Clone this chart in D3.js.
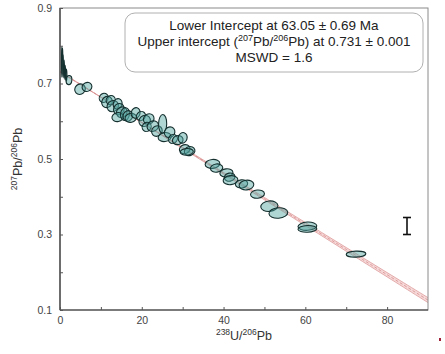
<!DOCTYPE html>
<html>
<head>
<meta charset="utf-8">
<script src="https://cdn.jsdelivr.net/npm/d3@7"></script>
<style>
  html, body { margin: 0; padding: 0; background: #fff; }
  svg { display: block; font-family: "Liberation Sans", Arial, sans-serif; }
</style>
</head>
<body>
<svg id="chart" width="445" height="354"></svg>
<script>
// Tera-Wasserburg analyses: 238U/206Pb, 207Pb/206Pb, half-widths of the error ellipses, error correlation
const u238pb206 = [0.45, 0.75, 1.0, 1.25, 1.55, 0.6, 2.2, 4.9, 6.6,
  10.7, 11.5, 12.4, 12.9, 14.1, 14.4, 15.1, 14.1, 15.9, 16.6, 17.3, 18.5, 19.8, 20.7, 21.7, 21.2,
  22.7, 23.7, 25.1, 25.6, 26.8, 27.6, 28.8, 30.0, 30.5, 31.7, 31.0,
  37.3, 38.3, 40.7, 41.5, 41.7, 44.4, 45.6, 48.3, 51.2, 53.4, 60.5, 60.5, 72.4];
const pb207pb206 = [0.757, 0.746, 0.738, 0.729, 0.722, 0.778, 0.709, 0.685, 0.691,
  0.662, 0.651, 0.656, 0.640, 0.646, 0.632, 0.624, 0.611, 0.619, 0.614, 0.609, 0.622, 0.614, 0.601, 0.606, 0.585,
  0.587, 0.574, 0.593, 0.558, 0.571, 0.553, 0.550, 0.556, 0.526, 0.521, 0.519,
  0.487, 0.476, 0.463, 0.452, 0.444, 0.434, 0.431, 0.407, 0.375, 0.357, 0.322, 0.315, 0.248];
const errU = [0.08, 0.1, 0.1, 0.12, 0.15, 0.08, 0.7, 1.3, 1.2,
  1.1, 1.3, 1.1, 1.4, 1.1, 1.3, 1.3, 1.4, 1.1, 1.2, 1.4, 1.1, 1.1, 1.4, 1.3, 1.1,
  1.4, 1.3, 1.0, 1.6, 1.3, 1.1, 1.3, 1.1, 1.3, 1.3, 1.6,
  1.8, 1.5, 1.6, 1.3, 1.8, 1.5, 1.8, 1.7, 2.1, 2.3, 2.3, 2.3, 2.4];
const errPb = [0.040, 0.030, 0.024, 0.019, 0.016, 0.016, 0.012, 0.014, 0.012,
  0.012, 0.015, 0.012, 0.015, 0.014, 0.015, 0.014, 0.012, 0.017, 0.014, 0.012, 0.014, 0.012, 0.015, 0.014, 0.012,
  0.014, 0.014, 0.025, 0.012, 0.014, 0.012, 0.012, 0.014, 0.012, 0.012, 0.009,
  0.012, 0.011, 0.011, 0.011, 0.012, 0.011, 0.013, 0.011, 0.014, 0.014, 0.011, 0.009, 0.008];
const rho = [0, 0, 0, 0, 0, 0, 0.1, 0.1, 0.1,
  0.1, 0.1, 0.1, 0.1, 0.1, 0.1, 0.1, 0.1, 0.1, 0.1, 0.1, 0.1, 0.1, 0.1, 0.1, 0.1,
  0.1, 0.1, 0.05, 0.1, 0.1, 0.1, 0.1, 0.1, 0.1, 0.1, 0.1,
  0.1, 0.1, 0.1, 0.1, 0.1, 0.1, 0.1, 0.1, 0.1, 0.1, 0.1, 0.1, 0.1];

// Discordia: lower intercept age (Ma) with error, upper intercept 207Pb/206Pb with error
const lowerAge = [63.05, 0.69];
const upperRatio = [0.731, 0.001];
const mswd = 1.6;

const xTicks = [0, 20, 40, 60, 80];
const xMinor = [10, 30, 50, 70];
const yTicks = [0.1, 0.3, 0.5, 0.7, 0.9];
const yMinor = [0.2, 0.4, 0.6, 0.8];

const svg = d3.select("#chart");
const margin = {left: 60, top: 8, right: 17, bottom: 44};
const W = 445, H = 354;

const x = d3.scaleLinear().domain([0, 90]).range([margin.left, W - margin.right]);
const y = d3.scaleLinear().domain([0.1, 0.9]).range([H - margin.bottom, margin.top]);

svg.append("defs").append("clipPath").attr("id", "plotClip")
  .append("rect").attr("x", x(0)).attr("y", y(0.9))
  .attr("width", x(90) - x(0)).attr("height", y(0.1) - y(0.9));

// Discordia line and its envelope
const lambda238 = 1.55125e-10;
const rad76 = t => { // radiogenic 207Pb/206Pb at age t (Ma)
  const l235 = 9.8485e-10, tt = t * 1e6;
  return (Math.exp(l235 * tt) - 1) / (137.818 * (Math.exp(lambda238 * tt) - 1));
};
const xAt = t => 1 / (Math.exp(lambda238 * t * 1e6) - 1);
const lineFn = (y0, t) => {
  const xi = xAt(t), yi = rad76(t);
  return xx => y0 + (yi - y0) * xx / xi;
};
const upper = lineFn(upperRatio[0] + upperRatio[1], lowerAge[0] + lowerAge[1]);
const lower = lineFn(upperRatio[0] - upperRatio[1], lowerAge[0] - lowerAge[1]);
const best = lineFn(upperRatio[0], lowerAge[0]);
const xs = d3.range(0, 90.01, 1);

const plot = svg.append("g").attr("clip-path", "url(#plotClip)");
plot.append("path")
  .datum(xs)
  .attr("d", d3.area().x(d => x(d)).y0(d => y(lower(d))).y1(d => y(upper(d))))
  .attr("fill", "#f6dada");
[upper, lower].forEach(f => {
  plot.append("path").datum(xs)
    .attr("d", d3.line().x(d => x(d)).y(d => y(f(d))))
    .attr("fill", "none").attr("stroke", "#de9a9a").attr("stroke-width", 0.8);
});
plot.append("path").datum(xs)
  .attr("d", d3.line().x(d => x(d)).y(d => y(best(d))))
  .attr("fill", "none").attr("stroke", "#d88a8a").attr("stroke-width", 0.8)
  .attr("stroke-dasharray", "3,2");

// Error ellipses
const kx = Math.abs(x(1) - x(0)), ky = Math.abs(y(0.2) - y(0.1)) / 0.1;
const pts = u238pb206.map((u, i) => {
  const sx = errU[i] * kx, sy = errPb[i] * ky;
  const a = sx * sx, d = sy * sy, c = -rho[i] * sx * sy;
  const theta = 0.5 * Math.atan2(2 * c, a - d);
  const tr = (a + d) / 2, det = Math.sqrt(((a - d) / 2) ** 2 + c * c);
  return {cx: x(u), cy: y(pb207pb206[i]), rx: Math.sqrt(tr + det), ry: Math.sqrt(Math.max(tr - det, 0.01)), ang: theta * 180 / Math.PI};
});
plot.selectAll("ellipse.pt").data(pts).join("ellipse")
  .attr("class", "pt")
  .attr("cx", 0).attr("cy", 0)
  .attr("rx", d => d.rx).attr("ry", d => d.ry)
  .attr("transform", d => `translate(${d.cx},${d.cy}) rotate(${d.ang})`)
  .attr("fill", "#4fa5a0").attr("fill-opacity", 0.45)
  .attr("stroke", "#142f2e").attr("stroke-width", 1.1);

// Frame and axes
const frame = svg.append("g");
frame.append("rect")
  .attr("x", x(0)).attr("y", y(0.9))
  .attr("width", x(90) - x(0)).attr("height", y(0.1) - y(0.9))
  .attr("fill", "none").attr("stroke", "#8a8a8a").attr("stroke-width", 1);
frame.append("line").attr("x1", x(0)).attr("x2", x(0)).attr("y1", y(0.9)).attr("y2", y(0.1))
  .attr("stroke", "#333").attr("stroke-width", 1.2);
frame.append("line").attr("x1", x(0)).attr("x2", x(90)).attr("y1", y(0.1)).attr("y2", y(0.1))
  .attr("stroke", "#333").attr("stroke-width", 1.2);

const xAxis = svg.append("g").attr("transform", `translate(0,${y(0.1)})`)
  .call(d3.axisBottom(x).tickValues(xTicks.concat(xMinor)).tickSizeInner(-3).tickSizeOuter(0)
    .tickFormat(d => xTicks.includes(d) ? d : ""));
const yAxis = svg.append("g").attr("transform", `translate(${x(0)},0)`)
  .call(d3.axisLeft(y).tickValues(yTicks.concat(yMinor)).tickSizeInner(-3).tickSizeOuter(0)
    .tickFormat(d => yTicks.includes(d) ? d3.format(".1f")(d) : ""));
[xAxis, yAxis].forEach(g => {
  g.select(".domain").remove();
  g.selectAll(".tick line").attr("stroke", "#555");
  g.selectAll("text").attr("fill", "#444").style("font-size", "10.5px")
    .style("font-family", "'Liberation Sans', Arial, sans-serif");
});
xAxis.selectAll("text").attr("dy", "1.05em");
yAxis.selectAll("text").attr("x", -8);

// Axis titles
const xt = svg.append("text").attr("x", x(45)).attr("y", 340)
  .attr("text-anchor", "middle").attr("fill", "#333").style("font-size", "12.5px");
xt.append("tspan").attr("baseline-shift", "super").style("font-size", "8.5px").text("238");
xt.append("tspan").text("U/");
xt.append("tspan").attr("baseline-shift", "super").style("font-size", "8.5px").text("206");
xt.append("tspan").text("Pb");

const yt = svg.append("text")
  .attr("transform", `translate(22,${y(0.5)}) rotate(-90)`)
  .attr("text-anchor", "middle").attr("fill", "#333").style("font-size", "12.5px");
yt.append("tspan").attr("baseline-shift", "super").style("font-size", "8.5px").text("207");
yt.append("tspan").text("Pb/");
yt.append("tspan").attr("baseline-shift", "super").style("font-size", "8.5px").text("206");
yt.append("tspan").text("Pb");

// Result box
const box = svg.append("g");
box.append("rect").attr("x", 125).attr("y", 13).attr("width", 298).attr("height", 59)
  .attr("rx", 10).attr("fill", "#fff").attr("stroke", "#b0b0b0").attr("stroke-width", 1);
const fmt2 = d3.format(".2f"), fmt3 = d3.format(".3f");
const cxBox = 274;
box.append("text").attr("x", cxBox).attr("y", 30).attr("text-anchor", "middle")
  .attr("fill", "#222").style("font-size", "13.5px")
  .text(`Lower Intercept at ${fmt2(lowerAge[0])} ± ${fmt2(lowerAge[1])} Ma`);
const l2 = box.append("text").attr("x", cxBox).attr("y", 46).attr("text-anchor", "middle")
  .attr("fill", "#222").style("font-size", "13.5px");
l2.append("tspan").text("Upper intercept (");
l2.append("tspan").attr("baseline-shift", "super").style("font-size", "9px").text("207");
l2.append("tspan").text("Pb/");
l2.append("tspan").attr("baseline-shift", "super").style("font-size", "9px").text("206");
l2.append("tspan").text(`Pb) at ${fmt3(upperRatio[0])} ± ${fmt3(upperRatio[1])}`);
box.append("text").attr("x", cxBox).attr("y", 62).attr("text-anchor", "middle")
  .attr("fill", "#222").style("font-size", "13.5px").text(`MSWD = ${mswd}`);

// Error-bar key
const key = svg.append("g").attr("stroke", "#111").attr("stroke-width", 1.6);
key.append("line").attr("x1", 407).attr("x2", 407).attr("y1", 217).attr("y2", 235);
key.append("line").attr("x1", 403).attr("x2", 411).attr("y1", 217.5).attr("y2", 217.5);
key.append("line").attr("x1", 403).attr("x2", 411).attr("y1", 234.5).attr("y2", 234.5);

svg.append("rect").attr("x", 439).attr("y", 338).attr("width", 2).attr("height", 3).attr("fill", "#a0203a");
</script>
</body>
</html>
